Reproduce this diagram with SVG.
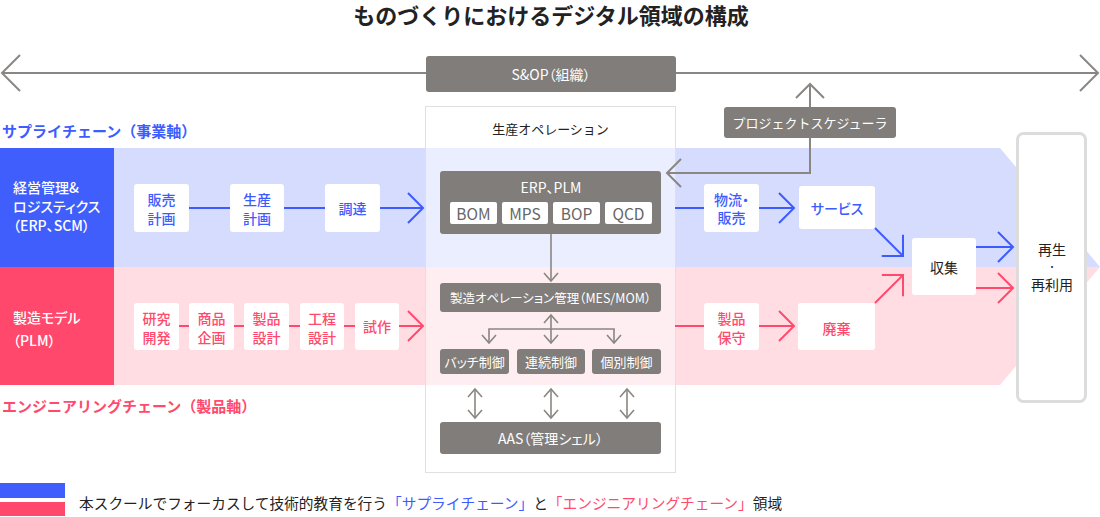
<svg xmlns="http://www.w3.org/2000/svg" width="1100" height="517" viewBox="0 0 1100 517">
<style>
text{font-family:"Noto Sans CJK JP","Noto Sans",sans-serif;font-feature-settings:"palt";dominant-baseline:central;text-anchor:middle}
.np{font-feature-settings:normal}
.title{font-size:22px;font-weight:bold;fill:#222}
.axisb{font-size:15px;font-weight:bold;fill:#3d5cff;text-anchor:start}
.axisp{font-size:15px;font-weight:bold;fill:#ff4a6e;text-anchor:start}
.side{font-size:14px;font-weight:500;fill:#fff;text-anchor:start}
.wbox{fill:#fff}
.tb{font-size:14px;fill:#3d5cff;font-weight:500}
.tp{font-size:14px;fill:#ff4a6e;font-weight:500}
.gbox{fill:#817d7a}
.tw{font-size:14px;fill:#fff}
.tw13{font-size:13px;fill:#fff}
.td{font-size:14px;fill:#222}
.sub{font-size:15.5px;fill:#666}
.lb{stroke:#3d5cff;stroke-width:2;fill:none}
.lp{stroke:#ff4a6e;stroke-width:2;fill:none}
.lg{stroke:#8a8683;stroke-width:2;fill:none}
.lgs{stroke:#8a8683;stroke-width:1.6;fill:none}
</style>
<defs>
<marker id="ab" markerUnits="userSpaceOnUse" viewBox="-17 -17 19 34" markerWidth="19" markerHeight="34" refX="0" refY="0" orient="auto"><path d="M-15,-15 L0,0 L-15,15" fill="none" stroke="#3d5cff" stroke-width="2"/></marker>
<marker id="ap" markerUnits="userSpaceOnUse" viewBox="-17 -17 19 34" markerWidth="19" markerHeight="34" refX="0" refY="0" orient="auto"><path d="M-15,-15 L0,0 L-15,15" fill="none" stroke="#ff4a6e" stroke-width="2"/></marker>
<marker id="ag" markerUnits="userSpaceOnUse" viewBox="-17 -17 19 34" markerWidth="19" markerHeight="34" refX="0" refY="0" orient="auto"><path d="M-14,-14 L0,0 L-14,14" fill="none" stroke="#8a8683" stroke-width="2"/></marker>
<marker id="as" markerUnits="userSpaceOnUse" viewBox="-10 -9 12 18" markerWidth="12" markerHeight="18" refX="0" refY="0" orient="auto-start-reverse"><path d="M-8,-7 L0,0 L-8,7" fill="none" stroke="#8a8683" stroke-width="1.6"/></marker>
</defs>

<text class="title np" x="551" y="14">ものづくりにおけるデジタル領域の構成</text>

<!-- bands -->
<g id="bands">
<polygon points="114,148 1000,148 1100,267 114,267" fill="#d6dcfd"/>
<polygon points="114,267 1100,267 1000,385 114,385" fill="#ffdde3"/>
</g>

<g id="supply-axis">
<rect x="0" y="148" width="114" height="119" fill="#3f5efc"/>
<text class="side" x="13" y="187">経営管理&amp;</text>
<text class="side" x="13" y="206">ロジスティクス</text>
<text class="side" x="13" y="225">（ERP、SCM）</text>
</g>
<g id="eng-axis">
<rect x="0" y="267" width="114" height="118" fill="#ff486c"/>
<text class="side" x="13" y="317">製造モデル</text>
<text class="side" x="13" y="340">（PLM）</text>
</g>

<text class="axisb np" x="2" y="130">サプライチェーン（事業軸）</text>
<text class="axisp np" x="2" y="405">エンジニアリングチェーン（製品軸）</text>

<!-- production operation container -->
<g id="production-operation">
<rect x="425.5" y="106.5" width="250" height="366" fill="#fff" fill-opacity="0.5" stroke="#e0e0e0" stroke-width="1"/>
<text class="np" x="550.5" y="128" style="font-size:13px;fill:#222">生産オペレーション</text>
</g>

<!-- connectors -->
<g id="connectors">
<line class="lg" x1="3" y1="73" x2="1097" y2="73"/>
<path class="lg" d="M20,55 L2,73 L20,91"/>
<path class="lg" d="M1080,55 L1098,73 L1080,91"/>
<line class="lg" x1="810" y1="107" x2="810" y2="84" marker-end="url(#ag)"/>
<path class="lg" d="M810,138 L810,173 L667,173" marker-end="url(#ag)"/>

<line class="lb" x1="189" y1="208" x2="230" y2="208"/>
<line class="lb" x1="284" y1="208" x2="325" y2="208"/>
<line class="lb" x1="380" y1="208" x2="423" y2="208" marker-end="url(#ab)"/>
<line class="lb" x1="675" y1="208" x2="704" y2="208"/>
<line class="lb" x1="759" y1="208" x2="794" y2="208" marker-end="url(#ab)"/>
<line class="lb" x1="875" y1="228" x2="903" y2="256" marker-end="url(#ab)"/>
<line class="lb" x1="976" y1="247" x2="1013" y2="247" marker-end="url(#ab)"/>

<line class="lp" x1="179" y1="326" x2="189" y2="326"/>
<line class="lp" x1="234" y1="326" x2="244" y2="326"/>
<line class="lp" x1="289" y1="326" x2="300" y2="326"/>
<line class="lp" x1="344" y1="326" x2="355" y2="326"/>
<line class="lp" x1="399" y1="326" x2="423" y2="326" marker-end="url(#ap)"/>
<line class="lp" x1="675" y1="326" x2="704" y2="326"/>
<line class="lp" x1="759" y1="326" x2="794" y2="326" marker-end="url(#ap)"/>
<line class="lp" x1="875" y1="303" x2="903" y2="275" marker-end="url(#ap)"/>
<line class="lp" x1="976" y1="288" x2="1013" y2="288" marker-end="url(#ap)"/>

<line class="lgs" x1="551" y1="234" x2="551" y2="281" marker-end="url(#as)"/>
<line class="lgs" x1="551" y1="315" x2="551" y2="343" marker-start="url(#as)" marker-end="url(#as)"/>
<path class="lgs" d="M489,343 L489,329 L614,329 L614,343" marker-start="url(#as)" marker-end="url(#as)"/>
<line class="lgs" x1="475" y1="389" x2="475" y2="418" marker-start="url(#as)" marker-end="url(#as)"/>
<line class="lgs" x1="551" y1="389" x2="551" y2="418" marker-start="url(#as)" marker-end="url(#as)"/>
<line class="lgs" x1="627" y1="389" x2="627" y2="418" marker-start="url(#as)" marker-end="url(#as)"/>
</g>

<g id="sop">
<rect class="gbox" x="426" y="56" width="250" height="36" rx="3"/>
<text class="tw" x="551" y="74">S&amp;OP（組織）</text>
</g>
<g id="scheduler">
<rect class="gbox" x="724" y="107" width="172" height="31" rx="3"/>
<text class="tw13 np" x="810" y="122.5">プロジェクトスケジューラ</text>
</g>

<!-- supply chain boxes -->
<g id="sales-plan"><rect class="wbox" x="134" y="184" width="55" height="48" rx="3"/><text class="tb" x="161.5" y="199">販売</text><text class="tb" x="161.5" y="218">計画</text></g>
<g id="prod-plan"><rect class="wbox" x="230" y="184" width="54" height="48" rx="3"/><text class="tb" x="257" y="199">生産</text><text class="tb" x="257" y="218">計画</text></g>
<g id="procurement"><rect class="wbox" x="325" y="184" width="55" height="48" rx="3"/><text class="tb" x="352.5" y="208">調達</text></g>
<g id="logistics"><rect class="wbox" x="704" y="184" width="55" height="48" rx="3"/><text class="tb" x="731.5" y="199">物流・</text><text class="tb" x="731.5" y="217">販売</text></g>
<g id="service"><rect class="wbox" x="799" y="186" width="76" height="43" rx="3"/><text class="tb" x="837" y="208">サービス</text></g>

<!-- engineering chain boxes -->
<g id="research"><rect class="wbox" x="134" y="303" width="45" height="47" rx="3"/><text class="tp" x="156.5" y="318">研究</text><text class="tp" x="156.5" y="337">開発</text></g>
<g id="product-plan"><rect class="wbox" x="189" y="303" width="45" height="47" rx="3"/><text class="tp" x="211.5" y="318">商品</text><text class="tp" x="211.5" y="337">企画</text></g>
<g id="product-design"><rect class="wbox" x="244" y="303" width="45" height="47" rx="3"/><text class="tp" x="266.5" y="318">製品</text><text class="tp" x="266.5" y="337">設計</text></g>
<g id="process-design"><rect class="wbox" x="300" y="303" width="44" height="47" rx="3"/><text class="tp" x="322" y="318">工程</text><text class="tp" x="322" y="337">設計</text></g>
<g id="prototype"><rect class="wbox" x="355" y="303" width="44" height="47" rx="3"/><text class="tp" x="377" y="326">試作</text></g>
<g id="maintenance"><rect class="wbox" x="704" y="303" width="55" height="47" rx="3"/><text class="tp" x="731.5" y="318">製品</text><text class="tp" x="731.5" y="337">保守</text></g>
<g id="disposal"><rect class="wbox" x="798" y="303" width="77" height="47" rx="3"/><text class="tp" x="836.5" y="328">廃棄</text></g>

<!-- production operation internals -->
<g id="erp-plm">
<rect class="gbox" x="440" y="171" width="221" height="63" rx="3"/>
<text class="tw" x="551" y="187">ERP、PLM</text>
<rect class="wbox" x="450" y="202" width="47" height="22" rx="2"/><text class="sub" x="473.5" y="213">BOM</text>
<rect class="wbox" x="502" y="202" width="46" height="22" rx="2"/><text class="sub" x="525" y="213">MPS</text>
<rect class="wbox" x="553" y="202" width="47" height="22" rx="2"/><text class="sub" x="576.5" y="213">BOP</text>
<rect class="wbox" x="605" y="202" width="47" height="22" rx="2"/><text class="sub" x="628.5" y="213">QCD</text>
</g>
<g id="mes">
<rect class="gbox" x="440" y="283" width="221" height="29" rx="3"/>
<text class="tw" x="550.5" y="297.5" style="font-size:12.5px">製造オペレーション管理（MES/MOM）</text>
</g>
<g id="batch"><rect class="gbox" x="440" y="349" width="69" height="25" rx="3"/><text class="tw13" x="474.5" y="361.5">バッチ制御</text></g>
<g id="continuous"><rect class="gbox" x="517" y="349" width="68" height="25" rx="3"/><text class="tw13" x="551" y="361.5">連続制御</text></g>
<g id="discrete"><rect class="gbox" x="592" y="349" width="69" height="25" rx="3"/><text class="tw13" x="626.5" y="361.5">個別制御</text></g>
<g id="aas"><rect class="gbox" x="440" y="422" width="221" height="32" rx="3"/><text class="tw" x="550.5" y="438">AAS（管理シェル）</text></g>

<!-- collection and reuse -->
<g id="collection"><rect class="wbox" x="912" y="238" width="64" height="57" rx="3"/><text class="td" x="944" y="267">収集</text></g>
<g id="reuse">
<rect x="1017.5" y="133.5" width="68" height="268" rx="6" fill="#fff" stroke="#dcdcdc" stroke-width="3"/>
<text class="td" x="1052" y="249">再生</text>
<text class="td" x="1052" y="266" style="font-size:9px">・</text>
<text class="td" x="1052" y="284">再利用</text>
</g>

<!-- legend -->
<g id="legend">
<rect x="0" y="483" width="65" height="15" fill="#3f5efc"/>
<rect x="0" y="502" width="65" height="14" fill="#ff486c"/>
<text class="np" x="79" y="502" style="font-size:14.7px;fill:#222;text-anchor:start">本スクールでフォーカスして技術的教育を行う<tspan fill="#3d5cff">「サプライチェーン」</tspan>と<tspan fill="#ff4a6e">「エンジニアリングチェーン」</tspan>領域</text>
</g>
</svg>
